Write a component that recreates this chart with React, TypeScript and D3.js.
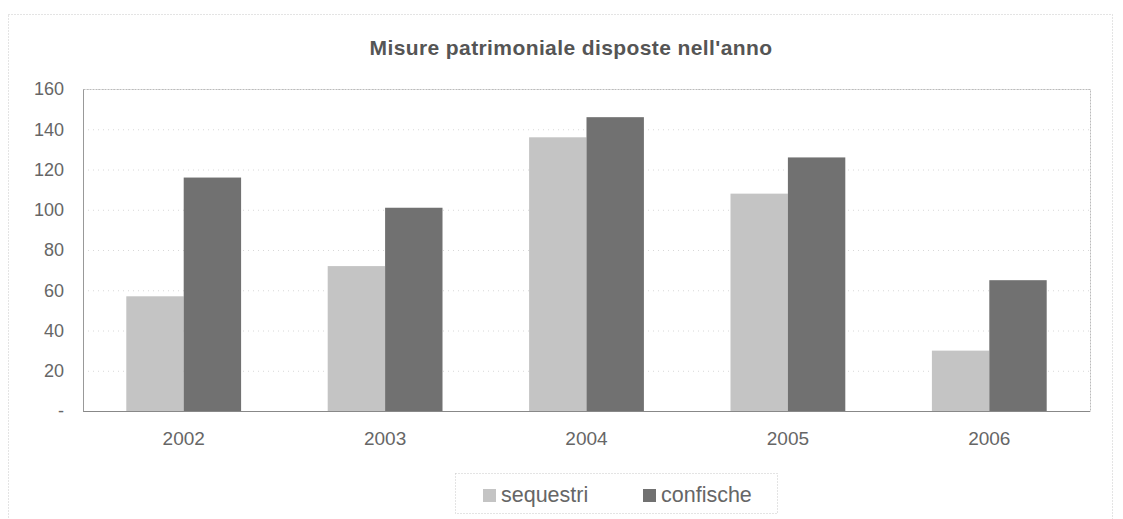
import React, { useEffect, useRef } from "react";
import * as d3 from "d3";

const width = 1123;
const height = 519;
const margin = { top: 89, right: 33, bottom: 108, left: 83 };

const years = ["2002", "2003", "2004", "2005", "2006"];
const sequestri = [57, 72, 136, 108, 30];
const confische = [116, 101, 146, 126, 65];
const seriesNames = ["sequestri", "confische"];
const seriesColors = ["#c4c4c4", "#717171"];
const yTicks = [0, 20, 40, 60, 80, 100, 120, 140, 160];

const font = "'Liberation Sans', Arial, sans-serif";

export default function App() {
  const ref = useRef<SVGSVGElement>(null);

  useEffect(() => {
    const svg = d3.select(ref.current);
    svg.selectAll("*").remove();

    const x = d3.scaleBand()
      .domain(years)
      .range([margin.left, width - margin.right])
      .paddingInner(0.43)
      .paddingOuter(0.215);
    const xs = d3.scaleBand()
      .domain(seriesNames)
      .range([0, x.bandwidth()]);
    const y = d3.scaleLinear()
      .domain([0, 160])
      .range([height - margin.bottom, margin.top]);

    // outer frame (runs off the bottom of the page)
    svg.append("rect")
      .attr("x", 8.5).attr("y", 14.5)
      .attr("width", 1104).attr("height", 520)
      .attr("fill", "none")
      .attr("stroke", "#c8c8c8")
      .attr("stroke-dasharray", "1,2");

    // title
    svg.append("text")
      .attr("x", 571).attr("y", 55)
      .attr("text-anchor", "middle")
      .attr("font-family", font)
      .attr("font-weight", "bold")
      .attr("font-size", 21)
      .attr("letter-spacing", 0.4)
      .attr("fill", "#555")
      .text("Misure patrimoniale disposte nell'anno");

    // grid
    svg.append("g")
      .selectAll("line")
      .data(yTicks.slice(1))
      .join("line")
      .attr("x1", margin.left).attr("x2", width - margin.right)
      .attr("y1", d => y(d) + 0.5).attr("y2", d => y(d) + 0.5)
      .attr("stroke", "#d8d8d8")
      .attr("stroke-dasharray", "1,4");

    // plot border
    svg.append("rect")
      .attr("x", margin.left + 0.5).attr("y", margin.top + 0.5)
      .attr("width", width - margin.left - margin.right)
      .attr("height", height - margin.top - margin.bottom)
      .attr("fill", "none")
      .attr("stroke", "#bbb")
      .attr("stroke-dasharray", "2,1");

    // bars
    const data = years.map((yr, i) => ({ yr, vals: [sequestri[i], confische[i]] }));
    const groups = svg.append("g")
      .selectAll("g")
      .data(data)
      .join("g")
      .attr("transform", d => `translate(${x(d.yr)},0)`);
    groups.selectAll("rect")
      .data(d => d.vals.map((v, k) => ({ v, k })))
      .join("rect")
      .attr("x", d => xs(seriesNames[d.k]) as number)
      .attr("width", xs.bandwidth())
      .attr("y", d => y(d.v))
      .attr("height", d => y(0) - y(d.v))
      .attr("fill", d => seriesColors[d.k]);

    // x axis line
    svg.append("line")
      .attr("x1", margin.left).attr("x2", width - margin.right)
      .attr("y1", y(0) + 0.5).attr("y2", y(0) + 0.5)
      .attr("stroke", "#888");

    // y axis
    const yAxis = svg.append("g")
      .attr("transform", `translate(${margin.left},0)`)
      .call(d3.axisLeft(y).tickValues(yTicks).tickSize(0).tickPadding(19)
        .tickFormat(d => (+d === 0 ? "-" : String(d))));
    yAxis.select(".domain").attr("stroke", "#999");
    yAxis.selectAll("text")
      .attr("font-family", font)
      .attr("font-size", 18)
      .attr("fill", "#666");

    // x axis labels
    const xAxis = svg.append("g")
      .attr("transform", `translate(0,${y(0)})`)
      .call(d3.axisBottom(x).tickSize(0).tickPadding(21));
    xAxis.select(".domain").remove();
    xAxis.selectAll("text")
      .attr("font-family", font)
      .attr("font-size", 19)
      .attr("fill", "#666");

    // legend
    const lg = svg.append("g");
    lg.append("rect")
      .attr("x", 455.5).attr("y", 473.5)
      .attr("width", 322).attr("height", 40)
      .attr("fill", "none")
      .attr("stroke", "#c8c8c8")
      .attr("stroke-dasharray", "1,2");
    const lx = [483, 643];
    seriesNames.forEach((name, i) => {
      lg.append("rect")
        .attr("x", lx[i]).attr("y", 489)
        .attr("width", 13).attr("height", 13)
        .attr("fill", seriesColors[i]);
      lg.append("text")
        .attr("x", lx[i] + 18).attr("y", 502)
        .attr("font-family", font)
        .attr("font-size", 21.5)
        .attr("fill", "#666")
        .text(name);
    });
  }, []);

  return (
    <svg ref={ref} width={width} height={height}
      style={{ position: "absolute", left: 0, top: 0, background: "#fff" }} />
  );
}
